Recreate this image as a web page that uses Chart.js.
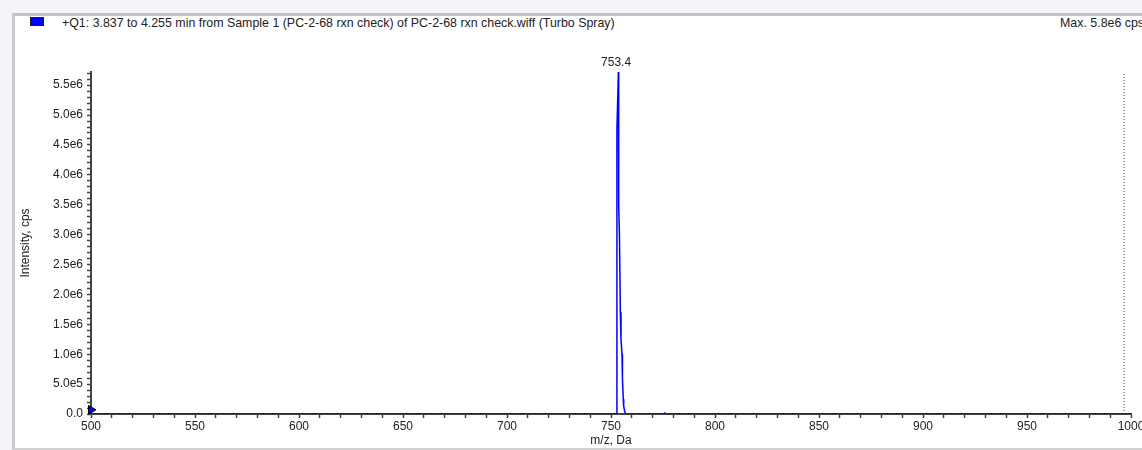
<!DOCTYPE html>
<html lang="en">
<head>
<meta charset="UTF-8">
<title>Spectrum</title>
<style>
    html, body { margin: 0; padding: 0; }
    body {
        width: 1142px; height: 450px; overflow: hidden; position: relative;
        background: #f3f5f9;
        font-family: "Liberation Sans", Arial, sans-serif;
    }
    .painel {
        position: absolute; left: 12px; top: 13px; width: 1200px; height: 432px;
        background: #fff;
        border-left: 3px solid #c9c9c9; border-top: 3px solid #c4c4c4; border-bottom: 2px solid #d0d0d0;
    }
    .cabecalho { position: absolute; top: 16px; font-size: 12.4px; color: #222; white-space: nowrap; }
    .caixa {
        position: absolute; left: 30px; top: 17px; width: 12px; height: 7px;
        background: #0000ff; border: 1px solid #222;
    }
    canvas { position: absolute; left: 0; top: 0; }
</style>
</head>
<body>
    <div class="painel"></div>
    <div class="caixa"></div>
    <div class="cabecalho" style="left: 62px;">+Q1: 3.837 to 4.255 min from Sample 1 (PC-2-68 rxn check) of PC-2-68 rxn check.wiff (Turbo Spray)</div>
    <div class="cabecalho" style="left: 1060px;">Max. 5.8e6 cps</div>
    <canvas id="grafico" width="1160" height="450"></canvas>

<script src="https://cdn.jsdelivr.net/npm/chart.js"></script>
<script>
    // espectro (m/z, Da x intensidade, cps)
    const mz = [500, 752.75, 752.85, 753.55, 753.7, 754.05, 754.5, 754.8, 755.3, 755.45, 755.55, 755.9, 756.1, 756.6, 757.2, 775.5, 775.7, 775.9, 1000];
    const intensidade = [0, 0, 4.75e6, 5.72e6, 3.5e6, 3.0e6, 1.7e6, 1.25e6, 1.0e6, 0.8e6, 0.6e6, 0.25e6, 0.13e6, 0.04e6, 0, 0, 3e4, 0, 0];

    // rótulo do pico
    const picoMz = [753.4];
    const picoTexto = ['753.4'];

    // linha pontilhada da direita e marcador na origem
    const limiteMz = [996.7, 996.7];
    const limiteY = [0, 5.72e6];
    const marcadorMz = [500];
    const marcadorY = [7e4];

    const eixoX = { min: 500, max: 1000, passo: 10, rotulo: 50 };
    const eixoY = { min: 0, max: 5.72e6, passo: 1e5, rotulo: 5e5 };

    function formatoExp(v) {
        if (v === 0) return '0.0';
        const e = Math.floor(Math.log10(v));
        return (v / Math.pow(10, e)).toFixed(1) + 'e' + e;
    }

    function multiplo(v, m) {
        return Math.abs(v / m - Math.round(v / m)) < 1e-6;
    }

    // ticks a cada passo (o max não é múltiplo do passo)
    function ticksPasso(min, max, passo) {
        const lista = [];
        for (let i = 0; min + i * passo <= max + 1e-9; i++) lista.push({ value: min + i * passo });
        return lista;
    }

    const rotuloPico = {
        id: 'rotuloPico',
        afterDatasetsDraw(chart) {
            const ctx = chart.ctx;
            const x = chart.scales.x, y = chart.scales.y;
            const topo = Math.max(...intensidade);
            ctx.save();
            ctx.font = '12px "Liberation Sans", Arial, sans-serif';
            ctx.fillStyle = '#222';
            ctx.textAlign = 'center';
            ctx.textBaseline = 'bottom';
            picoMz.forEach((m, i) => {
                ctx.fillText(picoTexto[i], x.getPixelForValue(m) - 2, y.getPixelForValue(topo) - 3);
            });
            ctx.restore();
        }
    };

    const ctx1 = document.getElementById('grafico');

    const chart1 = new Chart(ctx1, {
        type: 'line',
        data: {
            datasets: [{
                label: 'Q1',
                data: mz.map((m, i) => ({ x: m, y: intensidade[i] })),
                borderColor: '#0000ff',
                borderWidth: 1.5,
                pointRadius: 0,
                tension: 0,
                fill: false
            }, {
                label: 'limite',
                data: limiteMz.map((m, i) => ({ x: m, y: limiteY[i] })),
                borderColor: '#444',
                borderWidth: 1,
                borderDash: [1, 2],
                pointRadius: 0,
                fill: false
            }, {
                label: 'marcador',
                type: 'scatter',
                data: marcadorMz.map((m, i) => ({ x: m, y: marcadorY[i] })),
                pointStyle: 'triangle',
                rotation: 90,
                pointRadius: 5,
                backgroundColor: '#0000ff',
                borderColor: '#000',
                borderWidth: 1,
                clip: false
            }]
        },
        plugins: [rotuloPico],
        options: {
            responsive: false,
            animation: false,
            layout: { padding: { left: 14, top: 72, right: 29, bottom: 0 } },
            plugins: {
                legend: { display: false },
                tooltip: { enabled: false }
            },
            scales: {
                x: {
                    type: 'linear',
                    min: eixoX.min,
                    max: eixoX.max,
                    z: 1,
                    afterFit: (s) => { s.height = 36; },
                    border: { color: '#444', width: 2 },
                    grid: { drawOnChartArea: false, tickLength: 4, tickColor: '#444', tickWidth: 1.5 },
                    ticks: {
                        stepSize: eixoX.passo,
                        autoSkip: false,
                        maxRotation: 0,
                        padding: 1,
                        color: '#222',
                        font: { family: '"Liberation Sans", Arial, sans-serif', size: 12 },
                        callback: (v) => multiplo(v, eixoX.rotulo) ? String(v) : ''
                    },
                    title: {
                        display: true,
                        text: 'm/z, Da',
                        color: '#222',
                        padding: { top: 0, bottom: 2 },
                        font: { family: '"Liberation Sans", Arial, sans-serif', size: 12 }
                    }
                },
                y: {
                    min: eixoY.min,
                    max: eixoY.max,
                    afterFit: (s) => { s.width = 77; },
                    afterBuildTicks: (s) => { s.ticks = ticksPasso(eixoY.min, eixoY.max, eixoY.passo); },
                    border: { color: '#444', width: 2 },
                    grid: { drawOnChartArea: false, tickLength: 4, tickColor: '#444', tickWidth: 1.5 },
                    ticks: {
                        autoSkip: false,
                        padding: 4,
                        color: '#222',
                        font: { family: '"Liberation Sans", Arial, sans-serif', size: 12 },
                        callback: (v) => multiplo(v, eixoY.rotulo) ? formatoExp(v) : ''
                    },
                    title: {
                        display: true,
                        text: 'Intensity, cps',
                        color: '#222',
                        padding: { top: 4, bottom: 0 },
                        font: { family: '"Liberation Sans", Arial, sans-serif', size: 12 }
                    }
                }
            }
        }
    });
</script>
</body>
</html>
